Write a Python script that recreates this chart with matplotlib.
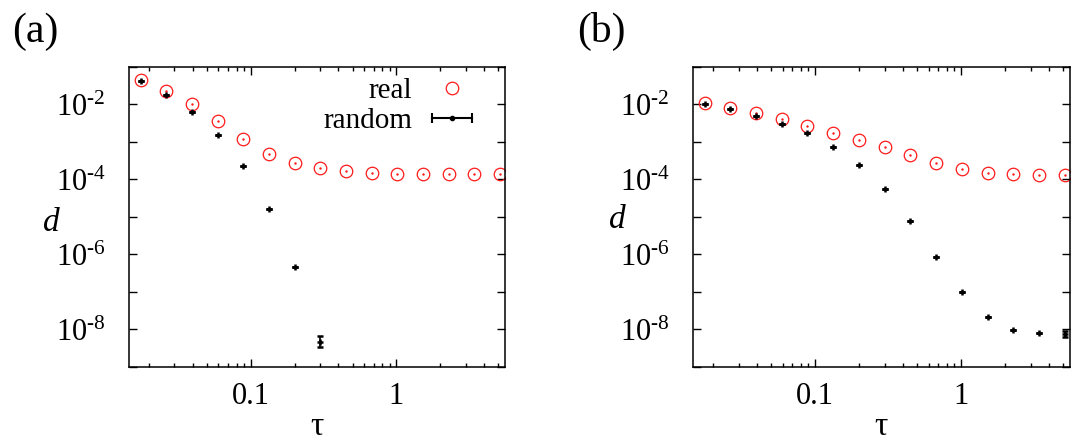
import numpy as np
import matplotlib
matplotlib.use('Agg')
import matplotlib.pyplot as plt
from matplotlib.lines import Line2D
from matplotlib.legend_handler import HandlerLine2D, HandlerTuple

plt.rcParams['font.family'] = ['Liberation Serif', 'DejaVu Serif']
plt.rcParams['mathtext.fontset'] = 'custom'
plt.rcParams['mathtext.rm'] = 'Liberation Serif'
plt.rcParams['mathtext.it'] = 'Liberation Serif:italic'

red = (1.0, 0.1, 0.1)

tau = [0.0176, 0.0263, 0.0395, 0.0593, 0.0889, 0.133, 0.2, 0.3,
       0.45, 0.675, 1.01, 1.52, 2.28, 3.42, 5.13]

# panel (a)
real_a = [0.0455, 0.0235, 0.0100, 3.57e-3, 1.18e-3, 4.73e-4, 2.69e-4, 1.97e-4,
          1.66e-4, 1.50e-4, 1.42e-4, 1.39e-4, 1.36e-4, 1.36e-4, 1.36e-4]
rand_a = [0.0413, 0.0179, 6.4e-3, 1.55e-3, 2.26e-4, 1.61e-5, 4.59e-7, 4.69e-9]
rand_a_lo = [0, 0, 0, 0, 0, 0, 0, 1.3e-9]
rand_a_hi = [0, 0, 0, 0, 0, 0, 0, 2.0e-9]

# panel (b)
real_b = [0.01074, 8.08e-3, 5.87e-3, 4.03e-3, 2.73e-3, 1.75e-3, 1.14e-3, 7.2e-4,
          4.37e-4, 2.75e-4, 1.90e-4, 1.51e-4, 1.38e-4, 1.35e-4, 1.35e-4]
rand_b = [0.0100, 7.52e-3, 5.0e-3, 3.09e-3, 1.69e-3, 7.47e-4, 2.48e-4, 5.46e-5,
          8.0e-6, 8.67e-7, 1.01e-7, 2.11e-8, 9.8e-9, 7.9e-9, 7.5e-9]
rand_b_lo = [0] * 14 + [1.2e-9]
rand_b_hi = [0] * 14 + [1.5e-9]

fig = plt.figure(figsize=(10.78, 4.43), dpi=100)
ax_a = fig.add_axes([0.1199, 0.1716, 0.3486, 0.6772])
ax_b = fig.add_axes([0.6431, 0.1716, 0.3495, 0.6772])


def draw(ax, real, rnd, lo, hi, ylim, dx, dy):
    ax.set_xscale('log')
    ax.set_yscale('log')
    ax.plot(tau, real, 'o', ms=9, mfc='none', mec=red, mew=0.9, ls='none')
    ax.plot(tau, real, '.', ms=1.5, color=red, ls='none')
    ax.errorbar(tau[:len(rnd)], rnd, yerr=[lo, hi], fmt='+', ms=5, mew=1.8,
                color='k', ecolor='k', elinewidth=1.2, capsize=2.5, capthick=1.2)
    ax.set_xlim(0.0147, 5.56)
    ax.set_ylim(*ylim)
    ax.set_xticks([0.1, 1])
    ax.set_xticklabels(['0.1', '1'])
    decs = [10.0 ** e for e in range(-9, 0)]
    ax.set_yticks(decs)
    ax.set_yticklabels([r'$\mathregular{10^{\text{%d}}}$' % e if e % 2 == 0 else ''
                        for e in range(-9, 0)])
    ax.yaxis.set_minor_locator(matplotlib.ticker.NullLocator())
    ax.tick_params(which='both', direction='in', top=True, right=True,
                   labelsize=22, width=1)
    ax.tick_params(which='major', length=6, pad=11)
    ax.tick_params(which='minor', length=3)
    ax.tick_params(axis='y', pad=17)
    for s in ax.spines.values():
        s.set_linewidth(1.1)
    ax.set_xlabel(r'$\mathregular{\tau}$', fontsize=24, va='center')
    ax.xaxis.set_label_coords(0.5, -0.2)
    ax.set_ylabel('d', fontsize=24, style='italic', rotation=0,
                  va='center', ha='center')
    ax.yaxis.set_label_coords(dx, dy)


draw(ax_a, real_a, rand_a, rand_a_lo, rand_a_hi, (2.07e-9, 0.0815), -0.206, 0.48)
draw(ax_b, real_b, rand_b, rand_b_lo, rand_b_hi, (5.37e-9, 0.0479), -0.202, 0.49)

# legend in panel (a), gnuplot style: text first, sample after
h_real = Line2D([], [], marker='o', ms=9, mfc='none', mec=red, mew=0.9, ls='none')
h_bar = Line2D([], [], color='k', lw=1.5, marker='|', ms=7, mew=1.5)
h_dot = Line2D([], [], color='k', ls='none', marker='.', ms=6)
ax_a.legend([h_real, (h_bar, h_dot)], ['real', 'random'],
            handler_map={h_bar: HandlerLine2D(numpoints=2, marker_pad=0),
                         h_dot: HandlerLine2D(numpoints=1),
                         h_real: HandlerLine2D(numpoints=1),
                         tuple: HandlerTuple(ndivide=1)},
            loc='upper right', bbox_to_anchor=(0.913, 0.965), frameon=False,
            markerfirst=False, fontsize=21, handlelength=1.4, handletextpad=0.65,
            labelspacing=0.12, borderpad=0, borderaxespad=0)

fig.text(0.011, 0.905, '(a)', fontsize=30)
fig.text(0.535, 0.905, '(b)', fontsize=30)

fig.savefig('out.png', dpi=100)
